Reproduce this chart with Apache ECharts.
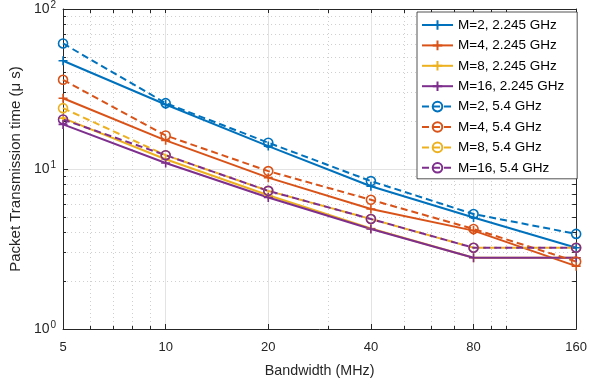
<!DOCTYPE html>
<html>
<head>
<meta charset="utf-8">
<script src="https://cdn.jsdelivr.net/npm/echarts@6.0.0/dist/echarts.min.js"></script>
<style>
  html, body { margin: 0; padding: 0; background: #fff; }
  #chart { width: 590px; height: 386px; }
</style>
</head>
<body>
<div id="chart"></div>
<script>
// data
const bandwidth = [5, 10, 20, 40, 80, 160]
const xMajor = [5, 10, 20, 40, 80, 160]
const xMinor = [6, 7, 8, 9, 30, 50, 60, 70, 90, 100]
const yMinor = [2, 3, 4, 5, 6, 7, 8, 9, 20, 30, 40, 50, 60, 70, 80, 90]

const m2_2245 = [47.5, 25.3, 13.9, 7.8, 4.98, 3.22]
const m4_2245 = [27.7, 15.1, 8.83, 5.62, 4.12, 2.47]
const m8_2245 = [20.8, 11.5, 6.85, 4.25, 2.79, 2.79]
const m16_2245 = [19.0, 10.9, 6.63, 4.22, 2.79, 2.79]
const m2_54 = [60.9, 25.8, 14.6, 8.4, 5.23, 3.93]
const m4_54 = [36.1, 16.2, 9.7, 6.42, 4.22, 2.64]
const m8_54 = [24.0, 12.2, 7.3, 4.87, 3.22, 3.22]
const m16_54 = [20.4, 12.2, 7.3, 4.87, 3.22, 3.22]

const names = [
  'M=2, 2.245 GHz', 'M=4, 2.245 GHz', 'M=8, 2.245 GHz', 'M=16, 2.245 GHz',
  'M=2, 5.4 GHz', 'M=4, 5.4 GHz', 'M=8, 5.4 GHz', 'M=16, 5.4 GHz'
]
const values = [m2_2245, m4_2245, m8_2245, m16_2245, m2_54, m4_54, m8_54, m16_54]
const colors = ['#0072BD', '#D95319', '#EDB120', '#7E2F8E']

const FONT = '"Liberation Sans", Arial, Helvetica, sans-serif'
const TXT = '#262626'
const PLUS = 'path://M5,0L5,10M0,5L10,5'

const series = values.map((vals, i) => {
  const c = colors[i % 4]
  const dashed = i >= 4
  return {
    name: names[i],
    type: 'line',
    xAxisIndex: 0,
    yAxisIndex: 0,
    data: bandwidth.map((b, k) => [b, vals[k]]),
    symbol: dashed ? 'circle' : PLUS,
    symbolSize: 9,
    showAllSymbol: true,
    itemStyle: { color: 'rgba(0,0,0,0)', borderColor: c, borderWidth: 1.6 },
    lineStyle: { color: c, width: 2, type: dashed ? [7, 4] : 'solid' },
    emphasis: { disabled: true }
  }
})

const xBase = { type: 'log', logBase: 10, min: 5, max: 160, gridIndex: 0 }
const yBase = { type: 'log', logBase: 10, min: 1, max: 100, gridIndex: 0 }

const option = {
  animation: false,
  textStyle: { fontFamily: FONT, color: TXT },
  grid: { left: 60, right: 11, top: 7, bottom: 57 },
  legend: {
    orient: 'vertical',
    left: 417,
    top: 12,
    itemWidth: 31,
    itemHeight: 12,
    itemGap: 6.4,
    padding: [6, 13, 4, 4],
    backgroundColor: '#fff',
    borderColor: TXT,
    borderWidth: 0.8,
    textStyle: { fontFamily: FONT, fontSize: 13.5, color: '#000' },
    data: names
  },
  xAxis: [
    Object.assign({}, xBase, {
      position: 'bottom',
      name: 'Bandwidth (MHz)',
      nameLocation: 'middle',
      nameGap: 35,
      nameTextStyle: { fontFamily: FONT, fontSize: 14.3, color: TXT },
      axisLine: { show: true, lineStyle: { color: TXT, width: 1 } },
      axisTick: { show: true, inside: true, length: 5, customValues: xMajor, lineStyle: { color: TXT } },
      axisLabel: { show: true, margin: 12, fontSize: 13, color: TXT, customValues: xMajor, formatter: v => String(v) },
      splitLine: { show: true, lineStyle: { color: '#e3e3e3', width: 1 } }
    }),
    Object.assign({}, xBase, {
      position: 'bottom',
      axisLine: { show: false },
      axisTick: { show: true, inside: true, length: 3, customValues: xMinor, lineStyle: { color: TXT } },
      axisLabel: { show: false },
      splitLine: { show: true, lineStyle: { color: '#cfcfcf', width: 1, type: [1, 3] } }
    }),
    Object.assign({}, xBase, {
      position: 'top',
      axisLine: { show: true, lineStyle: { color: TXT, width: 1 } },
      axisTick: { show: true, inside: true, length: 4, customValues: xMajor.concat(xMinor), lineStyle: { color: TXT } },
      axisLabel: { show: false },
      splitLine: { show: false }
    })
  ],
  yAxis: [
    Object.assign({}, yBase, {
      position: 'left',
      name: 'Packet Transmission time (\u03bc s)',
      nameLocation: 'middle',
      nameGap: 34,
      nameTextStyle: { fontFamily: FONT, fontSize: 15, color: TXT },
      axisLine: { show: true, lineStyle: { color: TXT, width: 1 } },
      axisTick: { show: true, inside: true, length: 5, lineStyle: { color: TXT } },
      axisLabel: {
        show: true,
        margin: 7,
        color: TXT,
        formatter: v => '{b|10}{s|' + Math.round(Math.log10(v)) + '}',
        rich: {
          b: { fontFamily: FONT, fontSize: 14, color: TXT },
          s: { fontFamily: FONT, fontSize: 10, color: TXT, verticalAlign: 'top', padding: [0, 0, 8, 1] }
        }
      },
      splitLine: { show: true, lineStyle: { color: '#e3e3e3', width: 1 } }
    }),
    Object.assign({}, yBase, {
      position: 'left',
      axisLine: { show: false },
      axisTick: { show: true, inside: true, length: 3, customValues: yMinor, lineStyle: { color: TXT } },
      axisLabel: { show: false },
      splitLine: { show: true, lineStyle: { color: '#cfcfcf', width: 1, type: [1, 3] } }
    }),
    Object.assign({}, yBase, {
      position: 'right',
      axisLine: { show: true, lineStyle: { color: TXT, width: 1 } },
      axisTick: { show: true, inside: true, length: 4, customValues: [1, 10, 100].concat(yMinor), lineStyle: { color: TXT } },
      axisLabel: { show: false },
      splitLine: { show: false }
    })
  ],
  series: series
}

const chart = echarts.init(document.getElementById('chart'))
chart.setOption(option)
</script>
</body>
</html>
